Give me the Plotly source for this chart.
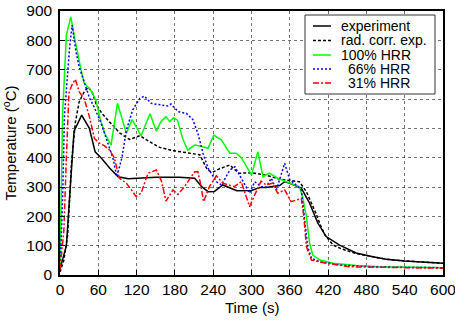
import plotly.graph_objects as go

# ---------------- data ----------------
exp_t = [0, 10, 22, 34, 46, 55, 65, 78, 91, 107, 150, 187, 211, 222, 232, 242, 255, 277, 300, 313, 323, 344, 352, 360, 378, 391, 404, 417, 438, 464, 490, 511, 540, 570, 600]
exp_T = [20, 100, 490, 545, 500, 420, 398, 364, 335, 328, 333, 333, 330, 301, 284, 285, 307, 287, 288, 298, 298, 305, 318, 313, 296, 245, 177, 131, 102, 75, 62, 54, 48, 44, 40]

rad_t = [0, 6, 12, 18, 24, 30, 38, 44, 50, 57, 66, 78, 93, 109, 125, 140, 156, 177, 203, 219, 231, 239, 250, 266, 280, 292, 302, 323, 333, 344, 360, 375, 386, 393, 401, 408, 415, 428, 440, 464, 490, 511, 540, 570, 600]
rad_T = [10, 50, 136, 380, 520, 590, 625, 640, 625, 580, 550, 520, 485, 462, 475, 455, 435, 424, 416, 410, 358, 350, 362, 375, 347, 347, 348, 340, 335, 327, 322, 318, 284, 250, 210, 170, 136, 102, 90, 73, 62, 54, 48, 44, 40]

g_t = [0, 4, 10, 12, 17, 23, 28, 33, 38, 46, 51, 57, 62, 70, 80, 90, 104, 113, 127, 141, 151, 158, 166, 172, 178, 184, 192, 200, 211, 219, 232, 241, 253, 266, 276, 284, 300, 310, 318, 328, 341, 360, 375, 380, 386, 391, 396, 407, 428, 464, 500, 540, 600]
g_T = [20, 545, 818, 835, 880, 807, 750, 699, 653, 636, 620, 591, 540, 483, 443, 585, 483, 530, 475, 550, 490, 523, 540, 523, 536, 528, 466, 426, 443, 440, 432, 477, 460, 415, 415, 400, 341, 420, 335, 347, 330, 313, 301, 267, 199, 108, 68, 51, 40, 32, 28, 27, 25]

b_t = [0, 4, 7, 15, 19, 25, 30, 38, 46, 54, 64, 75, 83, 89, 97, 104, 114, 125, 132, 143, 158, 169, 174, 185, 198, 208, 216, 224, 232, 245, 253, 266, 274, 286, 297, 305, 315, 323, 331, 339, 352, 360, 370, 378, 383, 388, 394, 407, 438, 490, 540, 600]
b_T = [20, 250, 545, 774, 852, 761, 710, 659, 605, 570, 520, 449, 398, 335, 400, 494, 563, 602, 610, 585, 580, 576, 583, 557, 551, 530, 483, 415, 364, 318, 307, 358, 369, 324, 279, 318, 301, 300, 330, 290, 381, 324, 307, 290, 199, 97, 57, 45, 34, 28, 26, 25]

r_t = [0, 6, 10, 14, 18, 24, 30, 38, 46, 54, 62, 70, 78, 85, 93, 104, 112, 119, 127, 138, 151, 159, 166, 177, 185, 195, 211, 216, 220, 225, 234, 245, 255, 273, 284, 292, 297, 305, 315, 323, 333, 341, 352, 362, 373, 378, 382, 386, 394, 417, 454, 500, 540, 600]
r_T = [20, 150, 400, 620, 645, 667, 625, 600, 540, 465, 449, 440, 425, 400, 330, 313, 290, 268, 279, 347, 358, 320, 252, 290, 275, 301, 352, 352, 313, 250, 301, 338, 313, 301, 318, 267, 233, 273, 320, 307, 313, 279, 290, 250, 256, 261, 199, 97, 51, 40, 28, 26, 24, 23]

x_ticks = [0, 60, 120, 180, 240, 300, 360, 420, 480, 540, 600]
y_ticks = [0, 100, 200, 300, 400, 500, 600, 700, 800, 900]

legend_labels = ["experiment", "rad. corr. exp.", "100% HRR", "66% HRR", "31% HRR"]

# ---------------- figure ----------------
FONT = "Liberation Sans, Arial, Helvetica, sans-serif"
series = [
    (exp_t, exp_T, "black", "solid"),
    (rad_t, rad_T, "black", "3px,2px"),
    (g_t, g_T, "#00ff00", "solid"),
    (b_t, b_T, "#0000ff", "2px,2px"),
    (r_t, r_T, "#ff0000", "6px,2px,2px,2px"),
]

fig = go.Figure()
for (t, T, c, d), name in zip(series, legend_labels):
    fig.add_trace(go.Scatter(x=t, y=T, mode="lines", name=name,
                             line=dict(color=c, width=1.5, dash=d),
                             showlegend=False))

axis_common = dict(
    showline=True, linecolor="black", linewidth=1.5, mirror=True,
    ticks="inside", ticklen=5, tickcolor="black",
    showgrid=True, gridcolor="rgba(0,0,0,0.55)", griddash="dot", gridwidth=1,
    zeroline=False, automargin=False, ticklabeloverflow="allow",
    tickfont=dict(family=FONT, size=15.5, color="black"),
)

fig.update_xaxes(range=[0, 600], tickvals=x_ticks, ticklabelstandoff=0,
                 **axis_common)
fig.update_yaxes(range=[0, 900], tickvals=y_ticks, ticklabelstandoff=3,
                 title=dict(text="Temperature (<sup>o</sup>C)", font=dict(family=FONT, size=15, color="black"), standoff=6),
                 **axis_common)

# manual gnuplot-style key
W, H, L, B = 383.0, 264.0, 60.0, 45.0
def px(x):
    return (x - L) / W
def py(y):
    return (320 - B - y) / H

shapes = [dict(type="rect", xref="paper", yref="paper",
               x0=px(305), x1=px(435), y0=py(94), y1=py(15),
               line=dict(color="#333333", width=1), fillcolor="white", layer="above")]
annotations = [dict(xref="paper", yref="paper", x=px(252), y=py(307),
                    text="Time (s)", showarrow=False, xanchor="center", yanchor="middle",
                    borderpad=0,
                    font=dict(family=FONT, size=15, color="black"))]
rows = [26, 40.5, 55, 69, 83]
text_x = [340, 340, 340, 347, 347]
for (t, T, c, d), name, ry, tx in zip(series, legend_labels, rows, text_x):
    shapes.append(dict(type="line", xref="paper", yref="paper",
                       x0=px(313), x1=px(331), y0=py(ry), y1=py(ry),
                       line=dict(color=c, width=1.5, dash=d), layer="above"))
    annotations.append(dict(xref="paper", yref="paper", x=px(tx), y=py(ry),
                            text=name, showarrow=False, xanchor="left", yanchor="middle",
                            borderpad=0,
                            font=dict(family=FONT, size=14, color="black")))

fig.update_layout(
    width=455, height=320,
    margin=dict(l=60, r=12, t=11, b=45),
    paper_bgcolor="white", plot_bgcolor="white",
    shapes=shapes, annotations=annotations,
    showlegend=False,
)

fig.write_html("out.html")
